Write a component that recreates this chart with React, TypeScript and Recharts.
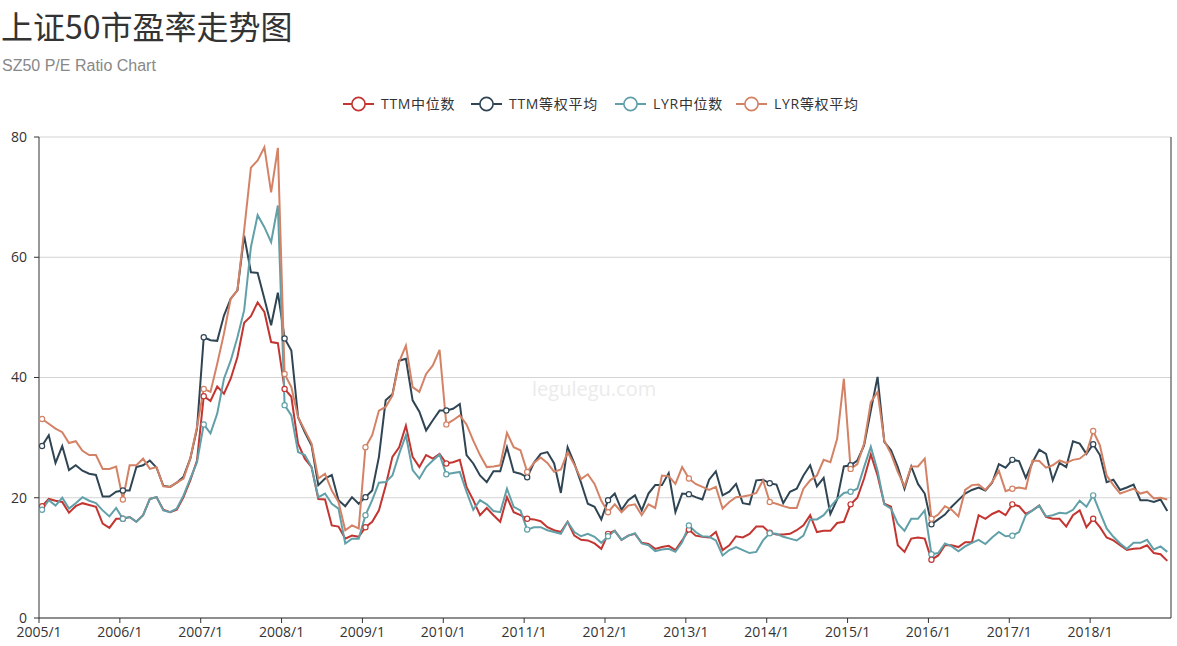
import React from "react";
import { LineChart, Line, XAxis, YAxis, CartesianGrid, ReferenceLine } from "recharts";

// ---- data (monthly, 2005/1 .. 2018/12) ----
const START_YEAR = 2005;
const N_MONTHS = 168;
const MONTHS: string[] = Array.from({ length: N_MONTHS }, (_, i) => `${START_YEAR + Math.floor(i / 12)}/${(i % 12) + 1}`);
const TICK_LABELS = ["2005/1", "2006/1", "2007/1", "2008/1", "2009/1", "2010/1", "2011/1", "2012/1", "2013/1", "2014/1", "2015/1", "2016/1", "2017/1", "2018/1"];
const Y_TICKS = [0, 20, 40, 60, 80];

const TTM_MEDIAN = [
  18.6, 19.8, 19.5, 19.3, 17.5, 18.6, 19.1, 18.8, 18.5, 15.7, 15.0, 16.5,
  16.5, 16.8, 16.0, 17.1, 19.8, 20.1, 18.0, 17.6, 18.0, 20.1, 22.9, 26.2,
  36.9, 36.1, 38.5, 37.3, 39.8, 43.4, 49.1, 50.2, 52.5, 50.9, 45.9, 45.7,
  38.1, 36.8, 29.0, 26.5, 25.1, 19.8, 19.7, 15.4, 15.2, 13.2, 13.7, 13.5,
  15.1, 16.0, 17.9, 22.0, 26.8, 28.4, 32.0, 26.8, 25.1, 27.1, 26.5, 27.3,
  25.7, 25.9, 26.3, 21.8, 19.6, 17.1, 18.3, 17.1, 16.0, 20.1, 17.6, 17.1,
  16.5, 16.4, 16.1, 15.1, 14.6, 14.3, 16.0, 13.7, 13.0, 12.9, 12.4, 11.5,
  14.0, 14.5, 13.0, 13.7, 14.0, 12.5, 12.3, 11.5, 11.8, 12.0, 11.3, 12.9,
  14.7, 13.7, 13.5, 13.4, 14.3, 11.3, 12.1, 13.6, 13.4, 14.0, 15.2, 15.2,
  14.2, 13.9, 13.9, 14.0, 14.6, 15.4, 17.1, 14.3, 14.5, 14.5, 15.8, 16.0,
  18.9, 20.0, 23.2, 27.2, 23.7, 19.0, 18.5, 12.1, 11.0, 13.2, 13.4, 13.2,
  9.7, 10.4, 12.1, 12.1, 11.8, 12.6, 12.6, 17.1, 16.5, 17.3, 17.8, 17.1,
  18.9, 18.6, 17.3, 17.9, 18.7, 16.8, 16.5, 16.5, 15.2, 17.1, 17.9, 15.1,
  16.5, 15.1, 13.4, 12.9, 12.1, 11.3, 11.5, 11.6, 12.1, 10.8, 10.6, 9.5,
];

const TTM_EQUAL = [
  28.6, 30.4, 25.8, 28.6, 24.6, 25.4, 24.5, 24.0, 23.8, 20.2, 20.2, 21.0,
  21.2, 21.2, 25.1, 25.4, 26.2, 25.0, 22.0, 21.8, 22.5, 23.5, 26.5, 31.5,
  46.7, 46.2, 46.1, 50.3, 53.1, 54.5, 63.6, 57.5, 57.4, 53.1, 48.7, 54.1,
  46.5, 44.5, 33.4, 30.9, 28.7, 22.1, 23.2, 23.8, 19.6, 18.6, 20.1, 19.0,
  20.1, 21.2, 26.8, 36.2, 37.2, 42.8, 43.1, 36.2, 34.3, 31.2, 32.9, 34.5,
  34.5, 34.8, 35.6, 27.1, 25.7, 23.7, 22.6, 24.4, 24.4, 28.4, 24.3, 24.0,
  23.4, 25.8, 27.3, 27.6, 25.7, 20.8, 28.4, 25.7, 22.5, 19.0, 18.5, 16.4,
  19.6, 20.7, 18.0, 19.6, 20.4, 17.9, 20.7, 22.1, 22.1, 24.1, 17.6, 20.7,
  20.6, 20.1, 19.7, 23.0, 24.4, 20.4, 21.0, 22.3, 19.1, 18.9, 22.9, 23.0,
  22.4, 22.2, 19.1, 21.0, 21.5, 23.7, 25.4, 21.9, 23.3, 17.3, 19.7, 25.2,
  25.4, 26.2, 28.7, 34.5, 40.1, 29.3, 27.9, 25.1, 21.5, 25.2, 22.3, 20.7,
  15.6, 16.4, 17.2, 18.5, 19.6, 20.7, 21.3, 21.7, 21.2, 22.5, 25.6, 25.0,
  26.3, 26.1, 23.3, 25.9, 28.0, 27.3, 22.9, 25.8, 25.1, 29.4, 29.0, 27.3,
  28.9, 27.1, 22.6, 23.0, 21.3, 21.7, 22.2, 19.6, 19.6, 19.3, 19.7, 17.8,
];

const LYR_MEDIAN = [
  18.0, 19.6, 18.7, 20.0, 18.2, 19.1, 20.1, 19.5, 19.1, 17.9, 16.9, 18.3,
  16.5, 16.8, 16.0, 17.1, 19.8, 20.1, 17.9, 17.6, 18.2, 20.4, 23.2, 25.9,
  32.2, 30.7, 34.0, 39.8, 42.8, 46.7, 51.2, 61.7, 67.0, 65.0, 62.5, 68.6,
  35.4, 33.7, 27.6, 27.1, 25.1, 20.1, 20.7, 19.0, 18.2, 12.4, 13.2, 13.2,
  17.1, 19.6, 22.5, 22.6, 23.7, 27.3, 30.4, 24.6, 23.2, 25.1, 26.2, 27.2,
  23.9, 24.1, 24.3, 21.0, 18.0, 19.6, 18.9, 17.8, 17.6, 21.5, 18.5, 17.9,
  14.7, 15.1, 15.1, 14.6, 14.3, 14.0, 16.0, 14.3, 13.6, 14.0, 13.5, 12.5,
  13.6, 14.5, 13.0, 13.7, 14.1, 12.4, 12.1, 11.1, 11.4, 11.5, 11.0, 12.6,
  15.4, 14.3, 13.6, 13.5, 12.9, 10.4, 11.3, 11.8, 11.3, 10.8, 11.0, 12.9,
  14.1, 14.0, 13.5, 13.2, 12.9, 13.7, 16.4, 16.4, 17.1, 18.5, 19.8, 20.8,
  21.0, 21.5, 25.1, 28.5, 24.5, 18.9, 18.2, 15.7, 14.5, 16.5, 16.5, 17.9,
  10.6, 10.8, 12.4, 11.9, 11.1, 11.9, 12.5, 13.0, 12.3, 13.4, 14.3, 13.6,
  13.7, 14.3, 17.1, 17.9, 18.7, 16.9, 17.1, 17.5, 17.4, 18.0, 19.5, 18.5,
  20.4, 17.6, 14.9, 13.5, 12.4, 11.5, 12.5, 12.5, 13.0, 11.4, 11.9, 11.0,
];

const LYR_EQUAL = [
  33.1, 32.3, 31.5, 30.9, 29.1, 29.4, 27.8, 27.1, 27.1, 24.8, 24.8, 25.2,
  19.7, 25.4, 25.4, 26.5, 24.8, 25.1, 21.9, 21.8, 22.5, 23.2, 26.5, 31.8,
  38.1, 37.6, 42.3, 47.3, 53.1, 54.5, 64.5, 74.9, 76.1, 78.3, 70.8, 78.2,
  40.6, 38.4, 33.4, 31.2, 29.0, 23.2, 24.0, 21.2, 19.3, 14.6, 15.4, 14.9,
  28.4, 30.4, 34.5, 35.1, 37.0, 42.6, 45.3, 38.4, 37.6, 40.6, 42.0, 44.6,
  32.2, 32.9, 33.7, 32.2, 29.5, 27.1, 25.1, 25.2, 25.4, 30.8, 28.4, 27.9,
  24.3, 25.8, 26.7, 25.8, 24.3, 24.7, 27.6, 25.5, 23.1, 23.9, 22.3, 19.5,
  17.6, 18.9, 17.6, 18.7, 18.9, 17.1, 18.9, 18.3, 23.7, 23.6, 22.3, 25.1,
  23.2, 22.3, 21.8, 21.3, 21.8, 18.2, 19.3, 20.1, 20.2, 20.4, 20.8, 22.9,
  19.3, 19.0, 18.6, 18.3, 18.3, 21.5, 22.9, 23.7, 26.3, 25.9, 29.8, 39.8,
  24.8, 25.6, 29.0, 35.9, 37.6, 29.5, 27.3, 24.3, 21.9, 25.2, 25.2, 26.5,
  16.5, 17.2, 18.6, 18.0, 16.9, 21.3, 22.1, 22.2, 21.3, 22.6, 24.5, 21.1,
  21.5, 21.7, 21.5, 26.2, 26.1, 25.0, 25.4, 26.2, 25.8, 26.3, 26.5, 27.4,
  31.1, 28.7, 23.7, 22.1, 20.7, 21.1, 21.5, 20.7, 21.0, 19.9, 20.0, 19.7,
];

const SERIES = [
  { key: "ttmMedian", name: "TTM中位数", color: "#c23531", values: TTM_MEDIAN },
  { key: "ttmEqual", name: "TTM等权平均", color: "#2f4554", values: TTM_EQUAL },
  { key: "lyrMedian", name: "LYR中位数", color: "#61a0a8", values: LYR_MEDIAN },
  { key: "lyrEqual", name: "LYR等权平均", color: "#d48265", values: LYR_EQUAL },
];

// observations are taken mid-month
const OBS_OFFSET = 0.45;
const rows = MONTHS.map((m, i) => {
  const r: any = { month: m, x: i + OBS_OFFSET };
  SERIES.forEach((s) => (r[s.key] = s.values[i]));
  return r;
});
const X_TICKS = TICK_LABELS.map((_, k) => k * 12);

const FONT = "'Open Sans', 'Noto Sans CJK SC', sans-serif";
const LEGEND_LEFT = [343, 471, 615, 736];

const makeDot = (color: string) => (props: any) => {
  const { cx, cy, index } = props;
  if (index % 12 !== 0 || cx == null || cy == null) return <g key={`d-${index}`} />;
  return <circle key={`d-${index}`} cx={cx} cy={cy} r={2.6} fill="#fff" stroke={color} strokeWidth={1.2} />;
};

const LegendIcon = ({ color }: { color: string }) => (
  <svg width={31} height={16} style={{ display: "block" }}>
    <line x1={0} y1={8} x2={31} y2={8} stroke={color} strokeWidth={2} />
    <circle cx={15.5} cy={8} r={6.6} fill="#fff" stroke={color} strokeWidth={1.6} />
  </svg>
);

export default function App() {
  return (
    <div style={{ position: "absolute", left: 0, top: 0, width: 1177, height: 646, background: "#fff", overflow: "hidden" }}>
      <div style={{ position: "absolute", left: 1, top: 8, fontSize: 32, lineHeight: "34px", color: "#333", fontFamily: "'Noto Sans CJK SC', sans-serif", whiteSpace: "nowrap" }}>
        上证50市盈率走势图
      </div>
      <div style={{ position: "absolute", left: 2, top: 57, fontSize: 16, lineHeight: "18px", color: "#888", fontFamily: "Arial, 'Liberation Sans', sans-serif", whiteSpace: "nowrap" }}>
        SZ50 P/E Ratio Chart
      </div>
      {SERIES.map((s, k) => (
        <div
          key={s.key}
          style={{ position: "absolute", left: LEGEND_LEFT[k], top: 95, height: 18, display: "flex", alignItems: "center", fontFamily: FONT, fontSize: 14, color: "#333", whiteSpace: "nowrap", letterSpacing: 0.7 }}
        >
          <LegendIcon color={s.color} />
          <span style={{ marginLeft: 7, lineHeight: "18px" }}>{s.name}</span>
        </div>
      ))}
      <div style={{ position: "absolute", left: 532, top: 375, fontSize: 20, color: "#ebebeb", fontFamily: "'Open Sans', sans-serif", whiteSpace: "nowrap" }}>
        legulegu.com
      </div>
      <div style={{ position: "absolute", left: 0, top: 0 }}>
        <LineChart width={1177} height={646} data={rows} margin={{ top: 137, right: 6, left: 0, bottom: 0 }}>
          <CartesianGrid horizontal vertical={false} stroke="#d4d4d4" />
          <XAxis
            type="number"
            dataKey="x"
            domain={[0, N_MONTHS]}
            ticks={X_TICKS}
            interval={0}
            tickFormatter={(v: number) => TICK_LABELS[Math.round(v / 12)] ?? ""}
            height={28}
            tickSize={5}
            tickMargin={4}
            axisLine={{ stroke: "#333" }}
            tickLine={{ stroke: "#333" }}
            tick={{ fill: "#333", fontSize: 14, fontFamily: FONT }}
            allowDataOverflow
          />
          <YAxis
            domain={[0, 80]}
            ticks={Y_TICKS}
            interval={0}
            width={39}
            tickSize={5}
            tickMargin={7}
            axisLine={{ stroke: "#333" }}
            tickLine={{ stroke: "#333" }}
            tick={{ fill: "#333", fontSize: 14, fontFamily: FONT }}
          />
          <ReferenceLine x={N_MONTHS} stroke="#333" strokeWidth={1} ifOverflow="extendDomain" />
          {SERIES.map((s) => (
            <Line
              key={s.key}
              type="linear"
              dataKey={s.key}
              name={s.name}
              stroke={s.color}
              strokeWidth={2}
              dot={makeDot(s.color)}
              activeDot={false}
              isAnimationActive={false}
            />
          ))}
        </LineChart>
      </div>
    </div>
  );
}
